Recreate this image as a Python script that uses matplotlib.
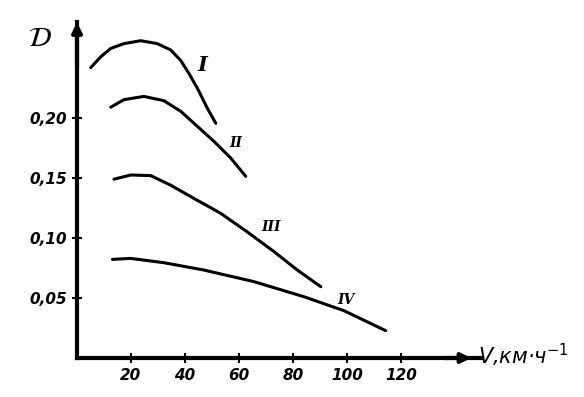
import matplotlib

matplotlib.use("Agg")
import matplotlib.pyplot as plt

# curves: speed V (km/h) vs D
v_1 = [5.1, 8.8, 12.5, 17.4, 23.6, 29.7, 34.7, 38.4, 41.5, 44.6, 48.3, 51.4]
d_1 = [0.242, 0.251, 0.258, 0.262, 0.2644, 0.262, 0.2567, 0.248, 0.237, 0.2247, 0.208, 0.1956]

v_2 = [12.5, 17.4, 24.8, 32.2, 38.4, 44.6, 50.7, 56.9, 62.5]
d_2 = [0.209, 0.2153, 0.218, 0.2144, 0.2056, 0.193, 0.1806, 0.1667, 0.1514]

v_3 = [13.7, 19.9, 27.3, 34.7, 43.3, 53.2, 63.1, 73, 81.6, 90.3]
d_3 = [0.149, 0.1525, 0.152, 0.144, 0.133, 0.1206, 0.105, 0.0886, 0.0733, 0.0594]

v_4 = [13.1, 19.9, 32.2, 47, 65.6, 84, 98.9, 114.3]
d_4 = [0.0822, 0.083, 0.0794, 0.0733, 0.0636, 0.0511, 0.0394, 0.0228]

curve_names = ["I", "II", "III", "IV"]
name_pos_v = [46.4, 59, 72, 99.6]
name_pos_d = [0.244, 0.179, 0.109, 0.048]

x_ticks = [20, 40, 60, 80, 100, 120]
y_ticks = [0.05, 0.10, 0.15, 0.20]
y_tick_labels = ["0,05", "0,10", "0,15", "0,20"]

fig = plt.figure(figsize=(5.84, 3.97), dpi=100)
ax = fig.add_axes([77 / 584, 39 / 397, 405 / 584, 336 / 397])
ax.set_xlim(0, 150)
ax.set_ylim(0, 0.28)

for sp in ["top", "right"]:
    ax.spines[sp].set_visible(False)
for sp in ["left", "bottom"]:
    ax.spines[sp].set_linewidth(3)

# arrow heads on the axes
ax.annotate("", xy=(0, 0.282), xytext=(0, 0.24),
            arrowprops=dict(arrowstyle="-|>", lw=3, color="black", mutation_scale=14),
            annotation_clip=False)
ax.annotate("", xy=(147, 0), xytext=(135, 0),
            arrowprops=dict(arrowstyle="-|>", lw=3, color="black", mutation_scale=14),
            annotation_clip=False)

for v, d in [(v_1, d_1), (v_2, d_2), (v_3, d_3), (v_4, d_4)]:
    ax.plot(v, d, color="black", lw=2.2, solid_capstyle="round", solid_joinstyle="round")

for name, x, y in zip(curve_names, name_pos_v, name_pos_d):
    size = 15 if name == "I" else 10
    ax.text(x, y, name, fontsize=size, fontstyle="italic", fontweight="bold",
            family="DejaVu Serif", ha="center", va="center")

tick_font = dict(fontsize=11, fontstyle="italic", fontweight="bold")
ax.set_xticks(x_ticks)
ax.set_xticklabels([str(t) for t in x_ticks], **tick_font)
ax.set_yticks(y_ticks)
ax.set_yticklabels(y_tick_labels, **tick_font)
ax.tick_params(direction="inout", length=7, width=1.5, pad=4)

fig.text(40 / 584, 1 - 38 / 397, r"$\mathcal{D}$", fontsize=20, ha="center", va="center")
fig.text(478 / 584, 1 - 355 / 397, "V,км·ч$^{-1}$", fontsize=15, fontstyle="italic",
         ha="left", va="center")

fig.savefig("out.png")
